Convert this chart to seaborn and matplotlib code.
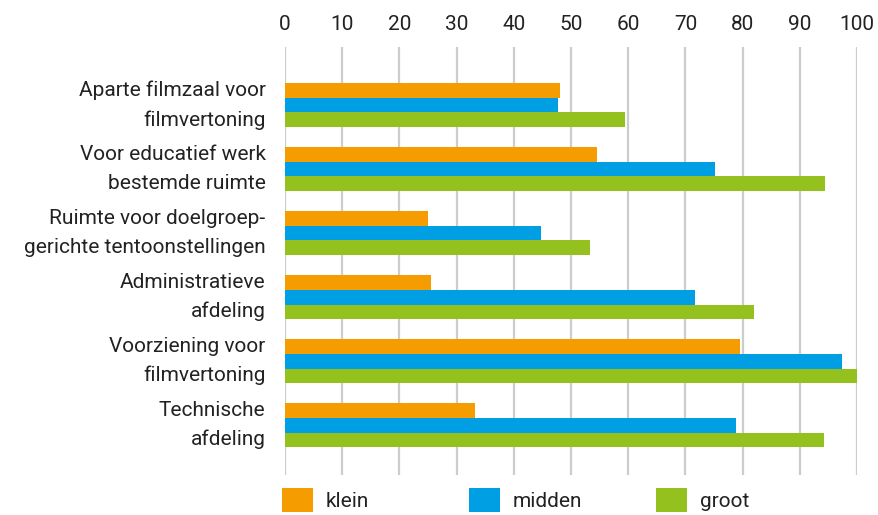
import numpy as np
import pandas as pd
import matplotlib
matplotlib.use('Agg')
import matplotlib.pyplot as plt
from matplotlib.patches import Patch
import seaborn as sns

# categories and values (percent)
voorzieningen = [
    'Aparte filmzaal voor\nfilmvertoning',
    'Voor educatief werk\nbestemde ruimte',
    'Ruimte voor doelgroep-\ngerichte tentoonstellingen',
    'Administratieve\nafdeling',
    'Voorziening voor\nfilmvertoning',
    'Technische\nafdeling',
]
klein = [48.1, 54.6, 25.0, 25.6, 79.5, 33.3]
midden = [47.8, 75.2, 44.7, 71.7, 97.4, 78.8]
groot = [59.5, 94.4, 53.4, 82.0, 100.0, 94.3]
groottes = ['klein', 'midden', 'groot']
kleuren = ['#F59C00', '#009FE3', '#95C11F']
x_ticks = list(range(0, 101, 10))

df = pd.DataFrame({
    'voorziening': voorzieningen * 3,
    'grootte': ['klein'] * 6 + ['midden'] * 6 + ['groot'] * 6,
    'waarde': klein + midden + groot,
})

sns.set_style('white')
plt.rcParams['font.family'] = ['Roboto', 'DejaVu Sans']
tekst = '#222222'

fig = plt.figure(figsize=(8.79, 5.15), dpi=100)
ax = fig.add_axes([285 / 879, 1 - 475 / 515, (857 - 285) / 879, (475 - 47) / 515])

sns.barplot(data=df, x='waarde', y='voorziening', hue='grootte', orient='h',
            palette=kleuren, hue_order=groottes, order=voorzieningen,
            width=0.7, saturation=1, legend=False, linewidth=0, ax=ax, zorder=3)

ax.set_xlim(0, 100)
ax.set_ylim(5.78, -0.906)
ax.set_xticks(x_ticks)
ax.xaxis.tick_top()
ax.tick_params(axis='x', length=0, pad=9, labelsize=15, labelcolor=tekst)
ax.tick_params(axis='y', length=0, pad=14, labelsize=15, labelcolor=tekst)
for lbl in ax.get_yticklabels():
    lbl.set_linespacing(1.65)
    lbl.set_verticalalignment('center')
ax.grid(axis='x', color='#cccccc', linewidth=1.6, zorder=0)
ax.grid(axis='y', visible=False)
for s in ax.spines.values():
    s.set_visible(False)
ax.set_xlabel('')
ax.set_ylabel('')

# legend: three entries at fixed spacing along the bottom
for i, (naam, kleur) in enumerate(zip(groottes, kleuren)):
    x0 = (282 + i * 187) / 879
    fig.legend(handles=[Patch(facecolor=kleur, edgecolor='none')], labels=[naam],
               loc='upper left', bbox_to_anchor=(x0, 1 - 488 / 515),
               frameon=False, borderpad=0, borderaxespad=0,
               handlelength=1.5, handleheight=1.4, handletextpad=0.6,
               fontsize=15, labelcolor=tekst)

fig.savefig('out.png', dpi=100)
